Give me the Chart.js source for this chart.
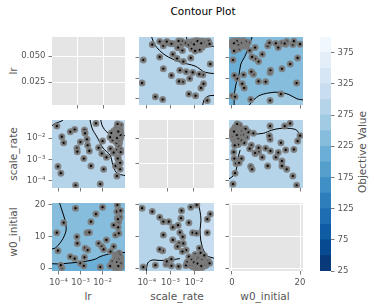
<!DOCTYPE html>
<html>
<head>
<meta charset="utf-8">
<title>Contour Plot</title>
<script src="https://cdn.jsdelivr.net/npm/chart.js@4.4.1/dist/chart.umd.min.js"></script>
<style>
  html, body { margin: 0; padding: 0; background: #fff; }
  #wrap { position: relative; width: 374px; height: 308px; overflow: hidden; font-family: "DejaVu Sans", sans-serif; color: #555; }
  #wrap canvas { position: absolute; left: 0; top: 0; }
  .lbl { position: absolute; font-size: 10.5px; white-space: nowrap; transform: translate(-50%, -50%); }
  .rot { transform: translate(-50%, -50%) rotate(-90deg); }
</style>
</head>
<body>
<div id="wrap">
  <div class="lbl" style="left:203px;top:11px;color:#000">Contour Plot</div>
  <div class="lbl rot" style="left:13px;top:71px">lr</div>
  <div class="lbl rot" style="left:13px;top:154px">scale_rate</div>
  <div class="lbl rot" style="left:13px;top:232px">w0_initial</div>
  <div class="lbl" style="left:88px;top:295.5px">lr</div>
  <div class="lbl" style="left:177px;top:295.5px">scale_rate</div>
  <div class="lbl" style="left:265px;top:295.5px">w0_initial</div>
  <div class="lbl rot" style="left:362px;top:152px">Objective Value</div>
</div>
<script>
// Valores de cada trial (mismo índice en las tres listas)
const lr = [8.3e-5, 1.4e-4, 1.7e-4, 9.3e-5, 3.4e-4, 5.4e-4, 5.9e-4, 6.8e-4, 7.1e-4, 9.8e-4,
  1.4e-3, 1.5e-3, 1.6e-3, 1.95e-3, 2.1e-3, 2.5e-3, 2.95e-3, 5.0e-3, 6.6e-3, 7.9e-3,
  9.3e-3, 0.010, 0.0112, 0.015, 0.023, 0.032, 0.039, 0.045, 0.047, 0.047,
  0.051, 0.054, 0.055, 0.063, 0.066, 0.050, 0.032, 1.26e-4,
  0.045, 0.052, 0.038, 0.060, 0.048, 0.055, 0.042, 0.065, 0.035, 0.050,
  0.058, 0.044, 0.062, 0.040, 0.053, 0.047, 0.067, 0.030, 0.056, 0.043,
  0.059, 0.049, 0.064, 0.037, 0.051, 0.046, 0.061, 0.054, 0.033, 0.057,
  0.041, 0.066, 0.050, 0.045, 0.063, 0.039, 0.028, 0.055, 0.048, 0.068,
  0.052, 0.025, 0.060, 0.036, 0.058, 0.022, 0.044, 0.065, 0.057, 0.063, 0.049, 0.067,
  0.047, 0.053, 0.059, 0.043, 0.061, 0.050, 0.056, 0.046, 0.064, 0.052,
  0.040, 0.058, 0.049, 0.054, 0.062, 0.045, 0.051, 0.057, 0.042, 0.060,
  0.048, 0.055, 0.063, 0.044, 0.053, 0.059, 0.050, 0.046, 0.066, 0.052];
const scaleRate = [0.036, 0.0115, 0.006, 4.7e-4, 0.0195, 0.025, 6.3e-5, 0.0033, 0.0023, 0.0065,
  1.1e-3, 0.0234, 0.0166, 0.0087, 0.0046, 0.0025, 5.0e-4, 0.048, 0.0035, 7.1e-5,
  1.9e-3, 0.0072, 3.5e-4, 1.26e-3, 3.2e-3, 2.0e-3, 5.0e-4, 1.7e-4, 0.0129, 2.8e-3,
  1.26e-3, 8.5e-4, 0.0126, 3.5e-4, 2.95e-3, 0.036, 2.1e-3, 2.3e-4,
  0.012, 0.015, 0.010, 0.018, 0.009, 0.022, 0.014, 0.011, 0.019, 0.026,
  0.008, 0.017, 0.030, 0.007, 0.013, 0.021, 0.016, 0.013, 0.035, 0.011,
  0.006, 0.018, 0.024, 0.016, 0.010, 0.028, 0.014, 0.005, 0.022, 0.019,
  0.009, 0.040, 0.012, 0.032, 0.009, 0.020, 0.008, 0.015, 0.045, 0.012,
  0.0045, 0.017, 0.027, 0.012, 0.010, 0.011, 0.006, 0.021, 6.5e-4, 7e-4, 1.1e-3, 2.2e-3,
  0.013, 0.016, 0.012, 0.019, 0.014, 0.011, 0.020, 0.015, 0.017, 0.009,
  0.013, 0.023, 0.016, 0.010, 0.012, 0.018, 0.014, 0.025, 0.011, 0.015,
  0.019, 0.013, 0.016, 0.021, 0.008, 0.012, 0.017, 0.010, 0.014, 0.020];
const w0Initial = [11.2, 0.1, 14.4, 5.5, 3.6, 3.0, 19.0, 9.9, 7.8, 1.5,
  0.7, 3.4, 6.3, 11.2, 5.7, 11.3, 14.7, 17.1, 7.8, 0.3,
  6.8, 19.3, 5.9, 8.9, 5.2, 6.8, 10.5, 17.9, 20.0, 15.8,
  12.9, 14.7, 11.0, 16.1, 18.2, 15.5, 13.6, 0.9,
  1.2, 0.8, 2.1, 1.5, 0.4, 2.6, 0.2, 1.9, 1.1, 3.2,
  0.6, 1.6, 0.9, 2.8, 3.8, 0.3, 2.3, 1.4, 1.7, 4.3,
  1.0, 2.0, 0.5, 3.5, 2.4, 1.3, 0.1, 1.8, 0.7, 4.8,
  1.6, 2.2, 3.0, 0.9, 2.7, 0.4, 2.0, 1.2, 1.5, 3.4,
  0.8, 1.0, 4.0, 0.2, 2.9, 0.6, 3.6, 1.4, 1.2, 2.1, 2.8, 0.5,
  1.1, 0.6, 1.8, 2.2, 0.9, 1.4, 2.5, 0.3, 1.7, 1.0,
  2.9, 0.7, 1.3, 2.0, 0.4, 1.6, 3.1, 0.8, 1.9, 1.2,
  0.5, 2.3, 1.5, 0.2, 2.6, 1.1, 0.9, 1.8, 1.4, 0.6];

// Niveles de la barra de color y etiquetas de ejes
const levels = [25, 50, 75, 100, 125, 150, 175, 200, 225, 250, 275, 300, 325, 350, 375, 400];
const cbTicks = [25, 75, 125, 175, 225, 275, 325, 375];
const logTicks = [1e-4, 1e-3, 1e-2];
const logTickLabels = ['10⁻⁴', '10⁻³', '10⁻²'];
const w0Ticks = [0, 10, 20];
const w0EdgeTicks = [0, 20];
const lrDiagTicks = [0.025, 0.05];
const srDiagTicks = [0.02, 0.04];

// Curvas de nivel: [x, y] en unidades de cada panel
const lineA1 = [[1.36e-4, 0.2], [2.2e-4, 0.043], [5.9e-4, 0.0138], [2.5e-3, 6.3e-3], [0.011, 4.0e-3], [0.029, 2.0e-3], [0.15, 1.6e-3]];
const lineA2 = [[4.6e-3, 0.2], [5.5e-3, 0.043], [0.012, 0.0245], [0.029, 0.034], [0.15, 0.038]];
const lineA3 = [[0.021, 2.0e-5], [0.026, 8.7e-5], [0.043, 1.4e-4], [0.15, 1.4e-4]];
const areaB1 = [[-3, 0.3], [6.0, 0.3], [4.1, 0.0155], [2.6, 5.0e-3], [2.1, 1.6e-3], [1.2, 5.4e-4], [0.7, 1.7e-4], [0.2, 2.5e-5], [-3, 2.5e-5]];
const areaB2 = [[4.6, 2.5e-5], [5.3, 5.6e-5], [7.9, 1.4e-4], [10.9, 1.95e-4], [13.8, 2.1e-4], [16.8, 1.6e-4], [19.1, 1.0e-4], [22.5, 7.0e-5], [24, 1e-5]];
const lineC0 = [[3.9e-5, 0.0295], [6.9e-5, 0.048], [1.4e-4, 0.062], [1.8e-4, 0.085]];
const areaC1 = [[2.2e-3, 0.2], [3.3e-3, 0.0295], [5.6e-3, 0.0112], [0.0105, 3.4e-3], [0.022, 1.6e-3], [0.0297, 5.5e-4], [0.041, 2.6e-4], [0.076, 1.9e-4], [0.3, 1.9e-4], [0.3, 0.2]];
const lineC2 = [[7.6e-3, 0.2], [9.3e-3, 0.041], [0.0178, 0.017], [0.05, 0.0123], [0.3, 0.0155]];
const lineD1 = [[-1.5, 1.1e-4], [0.3, 1.7e-4], [1.2, 3.2e-4], [1.6, 6.9e-4], [1.9, 1.45e-3], [2.4, 2.75e-3]];
const lineD2 = [[4.3, 0.0195], [6.3, 0.0155], [9.2, 0.0166], [11.7, 0.0234], [14.1, 0.028], [17.1, 0.028], [19.0, 0.0234], [20.0, 0.0138], [21.5, 0.0112]];
const lineE1 = [[8.7e-5, 23], [1.4e-4, 18.4], [1.95e-4, 15.2], [2.2e-4, 12.1], [1.6e-4, 9.4], [9.8e-5, 7.3], [6.9e-5, 6.3], [3.0e-5, 5.7]];
const areaE2 = [[1e-5, 1.6], [9.3e-5, 1.3], [2.4e-4, 1.5], [6.9e-4, 1.8], [1.95e-3, 2.2], [4.6e-3, 2.8], [7.6e-3, 3.6], [0.0158, 4.3], [0.037, 4.7], [0.5, 4.4], [0.5, -5], [1e-5, -5]];
const areaF1 = [[0.012, 24], [0.0178, 17.9], [0.0195, 15.2], [0.0178, 12.1], [0.019, 8.9], [0.023, 6.3], [0.029, 4.7], [0.04, 3.6], [0.3, 3.0], [0.3, 24]];
const lineF2 = [[9.3e-5, -1.3], [1.1e-4, 1.6], [1.66e-4, 2.5], [3.6e-4, 2.4], [9.5e-4, 2.5], [2.5e-3, 3.0]];

const W = 374, H = 308;
const wrap = document.getElementById('wrap');
const cols = [[52, 125], [139, 214], [229, 303]];
const rows = [[37, 105], [120, 188], [203, 271]];

// Escala "Blues" de matplotlib
const blues = ['#f7fbff', '#deebf7', '#c6dbef', '#9ecae1', '#6baed6', '#4292c6', '#2171b5', '#08519c', '#08306b'];
function bluesAt(t) {
  const p = Math.min(Math.max(t, 0), 1) * 8;
  const i = Math.min(7, Math.floor(p));
  const f = p - i;
  const a = parseInt(blues[i].slice(1), 16), b = parseInt(blues[i + 1].slice(1), 16);
  const mix = s => Math.round(((a >> s) & 255) * (1 - f) + ((b >> s) & 255) * f);
  return 'rgb(' + mix(16) + ',' + mix(8) + ',' + mix(0) + ')';
}
function band(i) { return bluesAt(1 - (i + 0.5) / (levels.length - 1)); }

const panelBg = {
  id: 'panelBg',
  beforeDraw(chart, args, opts) {
    if (!opts.color) return;
    const a = chart.chartArea, c = chart.ctx;
    c.save();
    c.fillStyle = opts.color;
    c.fillRect(a.left, a.top, a.right - a.left, a.bottom - a.top);
    c.restore();
  }
};

const logLabel = v => logTickLabels[logTicks.indexOf(v)] || '';
const axes = {
  lr: { type: 'logarithmic', min: 5.0e-5, max: 0.105, ticks: logTicks, label: logLabel },
  sr: { type: 'logarithmic', min: 4.68e-5, max: 0.0692, ticks: logTicks, label: logLabel },
  w0x: { type: 'linear', min: -0.88, max: 20.88, ticks: w0EdgeTicks, label: v => String(v) },
  w0y: { type: 'linear', min: -0.95, max: 20.63, ticks: w0Ticks, label: v => String(v) },
  lrDx: { type: 'linear', min: 0, max: 0.0702, ticks: lrDiagTicks, label: v => v.toFixed(3) },
  lrDy: { type: 'linear', min: 0.0029, max: 0.0683, ticks: lrDiagTicks, label: v => v.toFixed(3) },
  srDx: { type: 'linear', min: -0.0015, max: 0.056, ticks: srDiagTicks, label: v => v.toFixed(2) },
  srDy: { type: 'linear', min: 0, max: 0.0544, ticks: srDiagTicks, label: v => v.toFixed(2) }
};

// size = espacio fijo que ocupa el eje (hasta el borde del lienzo)
function axis(def, pos, showLabels, gridOn, size) {
  return {
    type: def.type, min: def.min, max: def.max, position: pos, bounds: 'data',
    afterFit(s) { if (pos === 'bottom') s.height = size; else s.width = size; },
    afterBuildTicks(s) { s.ticks = def.ticks.map(v => ({ value: v })); },
    ticks: {
      display: showLabels, autoSkip: false, maxRotation: 0, minRotation: 0, padding: 3,
      color: '#555', font: { family: 'DejaVu Sans', size: 8.5 },
      callback: v => def.label(v)
    },
    grid: { drawOnChartArea: gridOn, color: '#ffffff', lineWidth: 1, tickColor: '#555', tickLength: 3.5, tickWidth: 0.8 },
    border: { display: false }
  };
}

function addCanvas() {
  const cv = document.createElement('canvas');
  cv.width = W; cv.height = H;
  wrap.appendChild(cv);
  return cv;
}

const toXY = arr => arr.map(p => ({ x: p[0], y: p[1] }));
const pairs = (xs, ys) => xs.map((x, i) => ({ x, y: ys[i] }));

function trials(xs, ys) {
  return {
    type: 'scatter', data: pairs(xs, ys), clip: 0,
    pointRadius: 2.3, pointBackgroundColor: '#000',
    pointBorderColor: 'rgba(125,125,125,0.9)', pointBorderWidth: 2.4
  };
}
function contour(arr) {
  return { type: 'line', data: toXY(arr), clip: 0, fill: false, borderColor: '#000', borderWidth: 1,
    pointRadius: 0, tension: 0.3, capBezierPoints: false };
}
function region(arr, lvl) {
  return { type: 'line', data: toXY(arr), clip: 0, fill: 'shape', backgroundColor: band(lvl),
    borderColor: '#000', borderWidth: 1, pointRadius: 0, tension: 0.3, capBezierPoints: false };
}

function panel(r, c, xAx, yAx, datasets, bg, diag) {
  const [l, rr] = cols[c], [t, b] = rows[r];
  new Chart(addCanvas(), {
    type: 'scatter',
    data: { datasets },
    options: {
      responsive: false, animation: false, devicePixelRatio: 1, events: [],
      layout: { padding: { left: 0, right: W - rr, top: t, bottom: 0 } },
      plugins: { legend: { display: false }, tooltip: { enabled: false }, panelBg: { color: bg } },
      scales: {
        x: axis(xAx, 'bottom', r === 2, diag, H - b),
        y: axis(yAx, 'left', c === 0, diag, l)
      }
    },
    plugins: [panelBg]
  });
}

const diagBg = '#e5e5e5';
// Fila 1: lr
panel(0, 0, axes.lrDx, axes.lrDy, [], diagBg, true);
panel(0, 1, axes.sr, axes.lr, [trials(scaleRate, lr), contour(lineA1), contour(lineA2), contour(lineA3)], band(10), false);
panel(0, 2, axes.w0x, axes.lr, [trials(w0Initial, lr), region(areaB1, 7), region(areaB2, 9)], band(8), false);
// Fila 2: scale_rate
panel(1, 0, axes.lr, axes.sr, [trials(lr, scaleRate), contour(lineC0), contour(lineC2), region(areaC1, 11)], band(10), false);
panel(1, 1, axes.srDx, axes.srDy, [], diagBg, true);
panel(1, 2, axes.w0x, axes.sr, [trials(w0Initial, scaleRate), contour(lineD1), contour(lineD2)], band(10), false);
// Fila 3: w0_initial
panel(2, 0, axes.lr, axes.w0y, [trials(lr, w0Initial), contour(lineE1), region(areaE2, 7)], band(8), false);
panel(2, 1, axes.sr, axes.w0y, [trials(scaleRate, w0Initial), contour(lineF2), region(areaF1, 11)], band(10), false);
panel(2, 2, axes.w0x, axes.w0y, [], diagBg, true);

// Barra de color
new Chart(addCanvas(), {
  type: 'bar',
  data: {
    labels: [''],
    datasets: levels.slice(0, -1).map((lo, i) => ({
      data: [[lo, levels[i + 1]]], backgroundColor: band(i), borderWidth: 0,
      barPercentage: 1, categoryPercentage: 1, grouped: false
    }))
  },
  options: {
    responsive: false, animation: false, devicePixelRatio: 1, events: [],
    layout: { padding: { left: 320, right: 0, top: 37, bottom: H - 271 } },
    plugins: { legend: { display: false }, tooltip: { enabled: false } },
    scales: {
      x: { display: false },
      y: axis({ type: 'linear', min: 25, max: 400, ticks: cbTicks, label: v => String(v) }, 'right', true, false, W - 331)
    }
  }
});
</script>
</body>
</html>
